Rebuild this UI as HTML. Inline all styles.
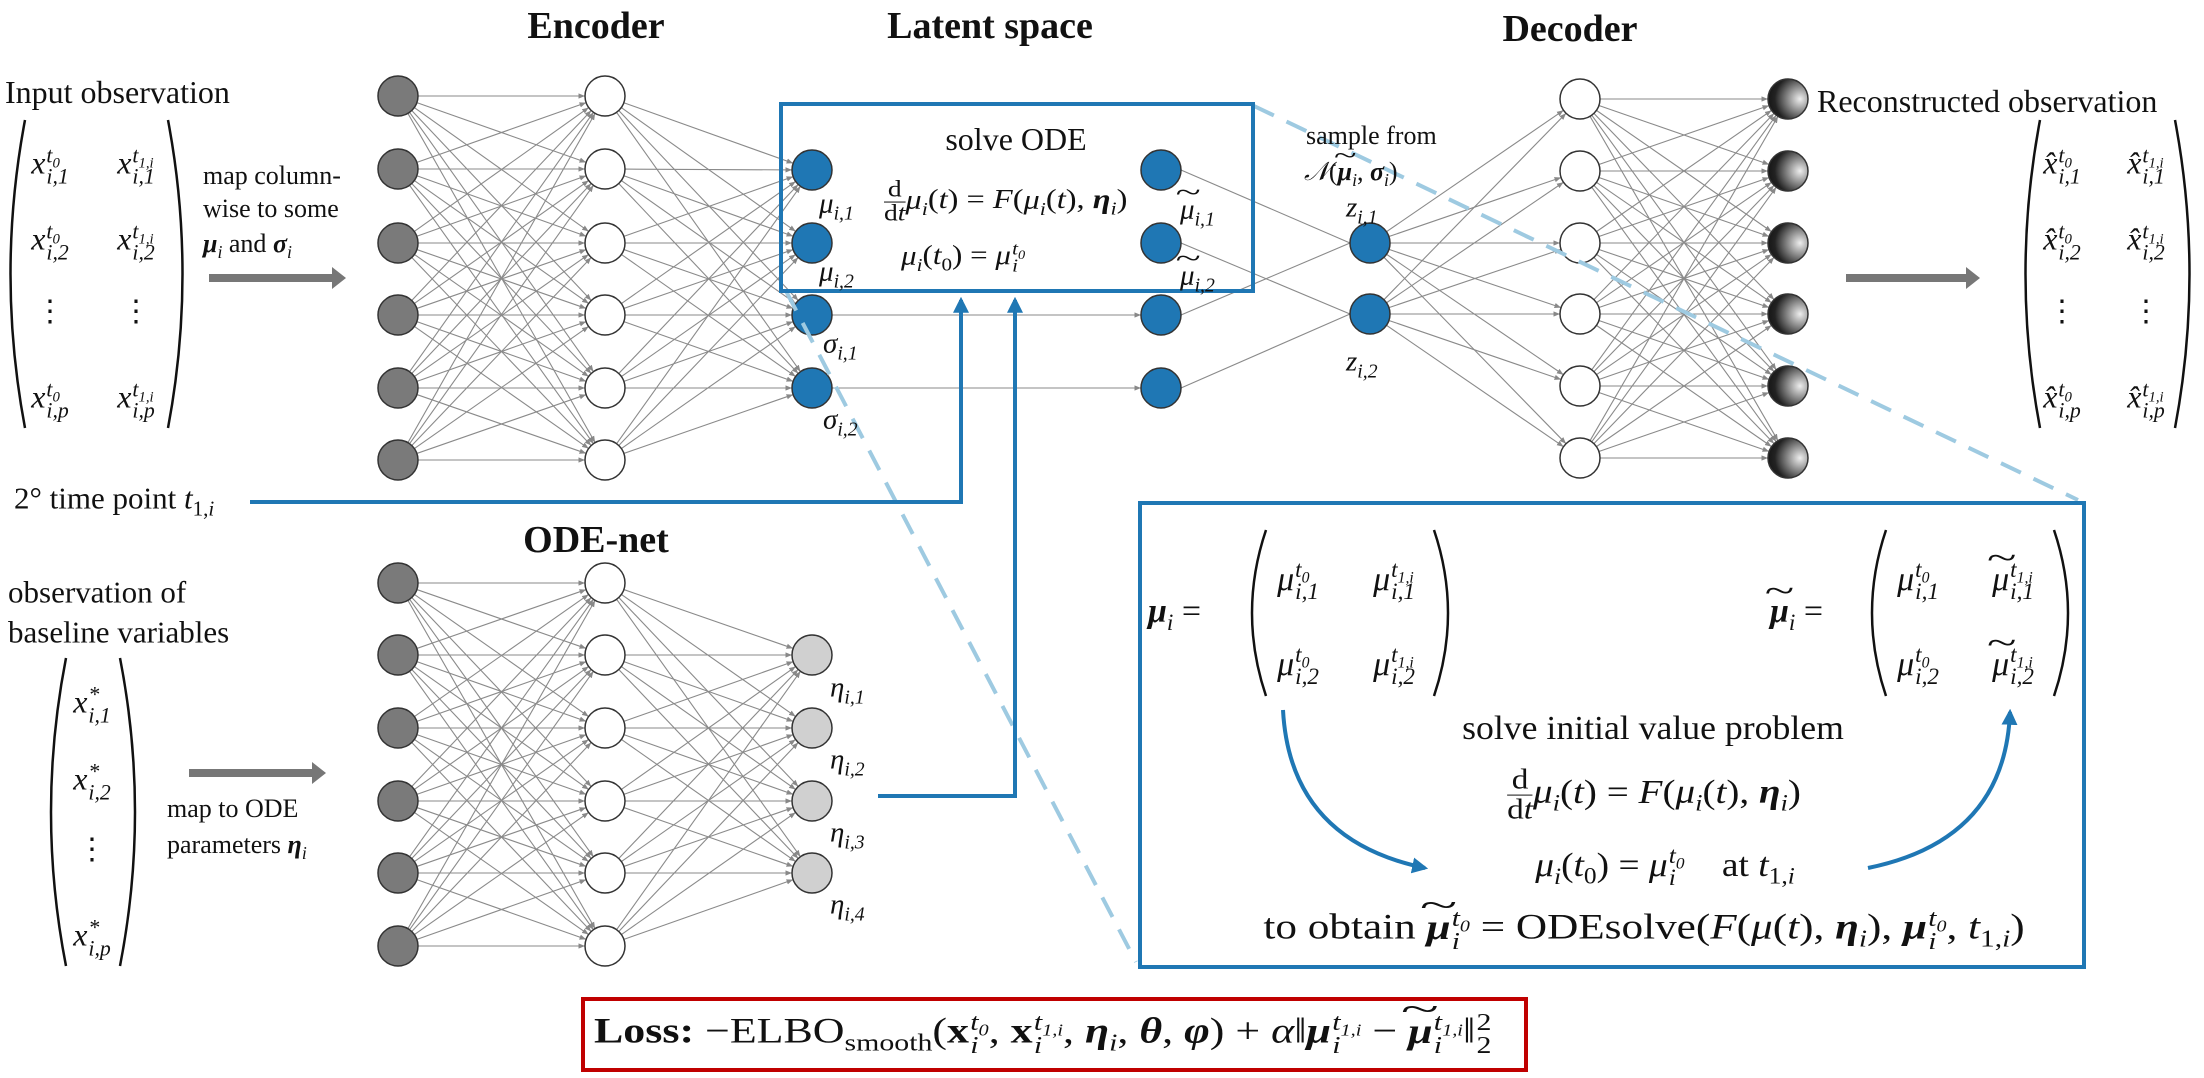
<!DOCTYPE html>
<html><head><meta charset="utf-8">
<style>
html,body{margin:0;padding:0;background:#fff;}
#root{position:relative;width:2204px;height:1078px;overflow:hidden;background:#fff;font-family:"Liberation Serif","DejaVu Serif",serif;color:#111;}
svg{position:absolute;left:0;top:0;}
.t{position:absolute;white-space:nowrap;transform:translateY(-50%);line-height:1;}
.c{transform:translate(-50%,-50%);}
.i{font-style:italic;}
.b{font-weight:bold;}
.ss{display:inline-flex;flex-direction:column;vertical-align:middle;font-size:0.68em;line-height:0.95;margin-left:1px;}
.ss span{display:block;}
sub,sup{font-size:0.68em;line-height:0;}
.frac{display:inline-flex;flex-direction:column;vertical-align:middle;text-align:center;font-size:0.85em;line-height:1;}
.frac span:first-child{border-bottom:1.5px solid #111;}
.bp{font-weight:bold;font-style:italic;}
.tl{position:relative;display:inline-block;}
.tl::after{content:"~";position:absolute;left:0;right:0;top:-0.6em;text-align:center;font-style:normal;font-weight:normal;transform:scaleX(1.6);}
</style></head><body>
<div id="root">
<svg id="svg" width="2204" height="1078" viewBox="0 0 2204 1078">
<defs>
<marker id="ah" viewBox="0 0 10 10" refX="10" refY="5" markerWidth="6" markerHeight="6" orient="auto"><path d="M0,1 L10,5 L0,9 z" fill="#888"/></marker>
<marker id="bh" viewBox="0 0 10 10" refX="8" refY="5" markerWidth="4" markerHeight="4" orient="auto"><path d="M0,0 L10,5 L0,10 z" fill="#1f77b4"/></marker>
<radialGradient id="og" cx="0.8" cy="0.5" r="0.9"><stop offset="0" stop-color="#eee"/><stop offset="0.7" stop-color="#222"/><stop offset="1" stop-color="#111"/></radialGradient>
</defs>
<g id="edges"></g>
<g id="nodes"></g>
</svg>

<!-- titles -->
<div class="t c b" style="left:596px;top:26px;font-size:38px">Encoder</div>
<div class="t c b" style="left:990px;top:26px;font-size:38px">Latent space</div>
<div class="t c b" style="left:1570px;top:29px;font-size:38px">Decoder</div>
<div class="t c b" style="left:596px;top:540px;font-size:38px">ODE-net</div>

<!-- left input -->
<div class="t" style="left:5px;top:92px;font-size:32px">Input observation</div>
<svg style="left:0;top:0" width="260" height="460"><path d="M25,120 Q-4,274 25,428" fill="none" stroke="#111" stroke-width="2.5"/><path d="M168,120 Q197,274 168,428" fill="none" stroke="#111" stroke-width="2.5"/></svg>
<div class="t c i" style="left:50px;top:166px;font-size:32px">x<span class="ss"><span>t<sub>0</sub></span><span>i,1</span></span></div>
<div class="t c i" style="left:136px;top:166px;font-size:32px">x<span class="ss"><span>t<sub>1,i</sub></span><span>i,1</span></span></div>
<div class="t c i" style="left:50px;top:242px;font-size:32px">x<span class="ss"><span>t<sub>0</sub></span><span>i,2</span></span></div>
<div class="t c i" style="left:136px;top:242px;font-size:32px">x<span class="ss"><span>t<sub>1,i</sub></span><span>i,2</span></span></div>
<div class="t c" style="left:50px;top:312px;font-size:30px">⋮</div>
<div class="t c" style="left:136px;top:312px;font-size:30px">⋮</div>
<div class="t c i" style="left:50px;top:400px;font-size:32px">x<span class="ss"><span>t<sub>0</sub></span><span>i,p</span></span></div>
<div class="t c i" style="left:136px;top:400px;font-size:32px">x<span class="ss"><span>t<sub>1,i</sub></span><span>i,p</span></span></div>
<div class="t" style="left:203px;top:176px;font-size:26px">map column-</div>
<div class="t" style="left:203px;top:209px;font-size:26px">wise to some</div>
<div class="t" style="left:203px;top:244px;font-size:26px"><span class="bp">μ</span><sub class="i">i</sub> and <span class="bp">σ</span><sub class="i">i</sub></div>

<div class="t" style="left:14px;top:498px;font-size:31px">2° time point <span class="i">t</span><sub>1,<span class="i">i</span></sub></div>

<!-- baseline -->
<div class="t" style="left:8px;top:592px;font-size:31px">observation of</div>
<div class="t" style="left:8px;top:632px;font-size:31px">baseline variables</div>
<svg style="left:0;top:0" width="200" height="1000"><path d="M66,658 Q36,812 66,966" fill="none" stroke="#111" stroke-width="2.5"/><path d="M120,658 Q150,812 120,966" fill="none" stroke="#111" stroke-width="2.5"/></svg>
<div class="t c i" style="left:92px;top:705px;font-size:32px">x<span class="ss"><span>*</span><span>i,1</span></span></div>
<div class="t c i" style="left:92px;top:782px;font-size:32px">x<span class="ss"><span>*</span><span>i,2</span></span></div>
<div class="t c" style="left:92px;top:850px;font-size:30px">⋮</div>
<div class="t c i" style="left:92px;top:938px;font-size:32px">x<span class="ss"><span>*</span><span>i,p</span></span></div>
<div class="t" style="left:167px;top:809px;font-size:26px">map to ODE</div>
<div class="t" style="left:167px;top:845px;font-size:26px">parameters <span class="bp">η</span><sub class="i">i</sub></div>

<!-- latent labels -->
<div class="t c" style="left:1016px;top:139px;font-size:32px">solve ODE</div>
<div class="t i" style="left:819px;top:204px;font-size:29px">μ<sub>i,1</sub></div>
<div class="t i" style="left:819px;top:272px;font-size:29px">μ<sub>i,2</sub></div>
<div class="t i" style="left:823px;top:344px;font-size:29px">σ<sub>i,1</sub></div>
<div class="t i" style="left:823px;top:420px;font-size:29px">σ<sub>i,2</sub></div>
<div class="t" style="left:884px;top:202px;font-size:27px;transform:translateY(-50%) scaleX(1.2);transform-origin:left center"><span class="frac"><span>d</span><span>d<i>t</i></span></span><i>μ<sub>i</sub></i>(<i>t</i>) = <i>F</i>(<i>μ<sub>i</sub></i>(<i>t</i>), <span class="bp">η</span><sub class="i">i</sub>)</div>
<div class="t" style="left:901px;top:258px;font-size:27px;transform:translateY(-50%) scaleX(1.15);transform-origin:left center"><i>μ<sub>i</sub></i>(<i>t</i><sub>0</sub>) = <i>μ</i><span class="ss i"><span>t<sub>0</sub></span><span>i</span></span></div>
<div class="t i" style="left:1180px;top:210px;font-size:29px"><span class="tl">μ</span><sub>i,1</sub></div>
<div class="t i" style="left:1180px;top:276px;font-size:29px"><span class="tl">μ</span><sub>i,2</sub></div>
<div class="t" style="left:1306px;top:136px;font-size:26px">sample from</div>
<div class="t" style="left:1304px;top:172px;font-size:26px"><i>𝒩</i>(<span class="bp tl">μ</span><sub class="i">i</sub>, <span class="bp">σ</span><sub class="i">i</sub>)</div>
<div class="t i" style="left:1346px;top:208px;font-size:29px">z<sub>i,1</sub></div>
<div class="t i" style="left:1346px;top:362px;font-size:29px">z<sub>i,2</sub></div>
<div class="t i" style="left:830px;top:688px;font-size:29px">η<sub>i,1</sub></div>
<div class="t i" style="left:830px;top:760px;font-size:29px">η<sub>i,2</sub></div>
<div class="t i" style="left:830px;top:833px;font-size:29px">η<sub>i,3</sub></div>
<div class="t i" style="left:830px;top:905px;font-size:29px">η<sub>i,4</sub></div>

<!-- right output -->
<div class="t" style="left:1817px;top:101px;font-size:32px">Reconstructed observation</div>
<svg style="left:0;top:0" width="2204" height="460"><path d="M2040,120 Q2011,274 2040,428" fill="none" stroke="#111" stroke-width="2.5"/><path d="M2175,120 Q2204,274 2175,428" fill="none" stroke="#111" stroke-width="2.5"/></svg>
<div class="t c i" style="left:2062px;top:166px;font-size:32px">x̂<span class="ss"><span>t<sub>0</sub></span><span>i,1</span></span></div>
<div class="t c i" style="left:2146px;top:166px;font-size:32px">x̂<span class="ss"><span>t<sub>1,i</sub></span><span>i,1</span></span></div>
<div class="t c i" style="left:2062px;top:242px;font-size:32px">x̂<span class="ss"><span>t<sub>0</sub></span><span>i,2</span></span></div>
<div class="t c i" style="left:2146px;top:242px;font-size:32px">x̂<span class="ss"><span>t<sub>1,i</sub></span><span>i,2</span></span></div>
<div class="t c" style="left:2062px;top:312px;font-size:30px">⋮</div>
<div class="t c" style="left:2146px;top:312px;font-size:30px">⋮</div>
<div class="t c i" style="left:2062px;top:400px;font-size:32px">x̂<span class="ss"><span>t<sub>0</sub></span><span>i,p</span></span></div>
<div class="t c i" style="left:2146px;top:400px;font-size:32px">x̂<span class="ss"><span>t<sub>1,i</sub></span><span>i,p</span></span></div>

<!-- zoom box content -->
<div class="t" style="left:1148px;top:612px;font-size:34px"><span class="bp">μ</span><sub class="i">i</sub> =</div>
<svg style="left:0;top:0" width="2204" height="720"><path d="M1266,530 Q1238,613 1266,696" fill="none" stroke="#111" stroke-width="2.5"/><path d="M1434,530 Q1462,613 1434,696" fill="none" stroke="#111" stroke-width="2.5"/><path d="M1886,530 Q1858,613 1886,696" fill="none" stroke="#111" stroke-width="2.5"/><path d="M2054,530 Q2082,613 2054,696" fill="none" stroke="#111" stroke-width="2.5"/></svg>
<div class="t c i" style="left:1298px;top:582px;font-size:34px">μ<span class="ss"><span>t<sub>0</sub></span><span>i,1</span></span></div>
<div class="t c i" style="left:1394px;top:582px;font-size:34px">μ<span class="ss"><span>t<sub>1,i</sub></span><span>i,1</span></span></div>
<div class="t c i" style="left:1298px;top:667px;font-size:34px">μ<span class="ss"><span>t<sub>0</sub></span><span>i,2</span></span></div>
<div class="t c i" style="left:1394px;top:667px;font-size:34px">μ<span class="ss"><span>t<sub>1,i</sub></span><span>i,2</span></span></div>
<div class="t" style="left:1770px;top:612px;font-size:34px"><span class="bp tl">μ</span><sub class="i">i</sub> =</div>
<div class="t c i" style="left:1918px;top:582px;font-size:34px">μ<span class="ss"><span>t<sub>0</sub></span><span>i,1</span></span></div>
<div class="t c i" style="left:2013px;top:582px;font-size:34px"><span class="tl">μ</span><span class="ss"><span>t<sub>1,i</sub></span><span>i,1</span></span></div>
<div class="t c i" style="left:1918px;top:667px;font-size:34px">μ<span class="ss"><span>t<sub>0</sub></span><span>i,2</span></span></div>
<div class="t c i" style="left:2013px;top:667px;font-size:34px"><span class="tl">μ</span><span class="ss"><span>t<sub>1,i</sub></span><span>i,2</span></span></div>
<div class="t c" style="left:1653px;top:729px;font-size:34px;transform:translate(-50%,-50%) scaleX(1.05)">solve initial value problem</div>
<div class="t c" style="left:1654px;top:795px;font-size:34px;transform:translate(-50%,-50%) scaleX(1.15)"><span class="frac"><span>d</span><span>d<i>t</i></span></span><i>μ<sub>i</sub></i>(<i>t</i>) = <i>F</i>(<i>μ<sub>i</sub></i>(<i>t</i>), <span class="bp">η</span><sub class="i">i</sub>)</div>
<div class="t c" style="left:1665px;top:868px;font-size:34px;transform:translate(-50%,-50%) scaleX(1.1)"><i>μ<sub>i</sub></i>(<i>t</i><sub>0</sub>) = <i>μ</i><span class="ss i"><span>t<sub>0</sub></span><span>i</span></span> &nbsp;&nbsp; at <i>t</i><sub>1,<i>i</i></sub></div>
<div class="t c" style="left:1644px;top:930px;font-size:36px;transform:translate(-50%,-50%) scaleX(1.2)">to obtain <span class="bp tl">μ</span><span class="ss i"><span>t<sub>0</sub></span><span>i</span></span> = ODEsolve(<i>F</i>(<i>μ</i>(<i>t</i>), <span class="bp">η</span><sub class="i">i</sub>), <span class="bp">μ</span><span class="ss i"><span>t<sub>0</sub></span><span>i</span></span>, <i>t</i><sub>1,<i>i</i></sub>)</div>

<!-- loss -->
<div class="t" style="left:594px;top:1034px;font-size:36px;transform:translateY(-50%) scaleX(1.22);transform-origin:left center"><b>Loss:</b> −ELBO<sub>smooth</sub>(<b>x</b><span class="ss i"><span>t<sub>0</sub></span><span>i</span></span>, <b>x</b><span class="ss i"><span>t<sub>1,i</sub></span><span>i</span></span>, <span class="bp">η</span><sub class="i">i</sub>, <span class="bp">θ</span>, <span class="bp">φ</span>) + <i>α</i>‖<span class="bp">μ</span><span class="ss i"><span>t<sub>1,i</sub></span><span>i</span></span> − <span class="bp tl">μ</span><span class="ss i"><span>t<sub>1,i</sub></span><span>i</span></span>‖<span class="ss"><span>2</span><span>2</span></span></div>
</div>

<script>
// layer definitions (x position and node y positions)
const encIn  = [96,169,243,315,388,460];
const encHid = [96,169,243,315,388,460];
const latent = [170,243,315,388];
const latent2 = [170,243,315,388];
const zNodes = [243,314];
const decHid = [99,171,243,314,386,458];
const decOut = [99,171,243,314,386,458];
const odeIn  = [583,655,728,801,873,946];
const odeHid = [583,655,728,801,873,946];
const odeOut = [655,728,801,873];
const X = {encIn:398, encHid:605, latent:812, latent2:1161, z:1370, decHid:1580, decOut:1788, odeIn:398, odeHid:605, odeOut:812};
const R = 20;
const NS = 'http://www.w3.org/2000/svg';
const svg = document.getElementById('svg');
const E = document.getElementById('edges');
const N = document.getElementById('nodes');
function mk(tag, attrs, parent){ const e=document.createElementNS(NS,tag); for(const k in attrs) e.setAttribute(k,attrs[k]); (parent||svg).appendChild(e); return e; }
function edge(x1,y1,x2,y2,w){
  const dx=x2-x1, dy=y2-y1, L=Math.hypot(dx,dy);
  const l=mk('line',{x1:x1+dx/L*R,y1:y1+dy/L*R,x2:x2-dx/L*R,y2:y2-dy/L*R,stroke:'#8a8a8a','stroke-width':w||1.1,'marker-end':'url(#ah)'},E);
  
  
}
function full(xa,ya,xb,yb){ ya.forEach(a=>yb.forEach(b=>edge(xa,a,xb,b))); }
function nodes(x,ys,fill,name){ ys.forEach(y=>{ const c=mk('circle',{cx:x,cy:y,r:R,fill:fill,stroke:'#333','stroke-width':1.5},N);
  
   }); }
full(X.encIn,encIn,X.encHid,encHid);
full(X.encHid,encHid,X.latent,latent);
full(X.odeIn,odeIn,X.odeHid,odeHid);
full(X.odeHid,odeHid,X.odeOut,odeOut);
full(X.z,zNodes,X.decHid,decHid);
full(X.decHid,decHid,X.decOut,decOut);
edge(X.latent,latent[2],X.latent2,latent2[2]);
edge(X.latent,latent[3],X.latent2,latent2[3]);
[[0,0],[1,1],[2,0],[3,1]].forEach(p=>{ const l=mk('line',{x1:X.latent2+R,y1:latent2[p[0]],x2:X.z-R,y2:zNodes[p[1]],stroke:'#8a8a8a','stroke-width':1.1},E);
  
   });
nodes(X.encIn,encIn,'#7a7a7a','encoder-input-node');
nodes(X.encHid,encHid,'#fff','encoder-hidden-node');
nodes(X.latent,latent,'#1f77b4','latent-node');
nodes(X.latent2,latent2,'#1f77b4','latent-ode-node');
nodes(X.z,zNodes,'#1f77b4','z-node');
nodes(X.decHid,decHid,'#fff','decoder-hidden-node');
nodes(X.decOut,decOut,'url(#og)','decoder-output-node');
nodes(X.odeIn,odeIn,'#7a7a7a','ode-input-node');
nodes(X.odeHid,odeHid,'#fff','ode-hidden-node');
nodes(X.odeOut,odeOut,'#d0d0d0','eta-node');
// boxes, arrows, dashed lines
function shape(tag,attrs,name){ const e=mk(tag,attrs);
  
   return e; }
shape('line',{x1:786,y1:291,x2:1136,y2:962,stroke:'#9ecae1','stroke-width':4,'stroke-dasharray':'22 14'},'zoom-dashed-line-left');
shape('line',{x1:1254,y1:106,x2:2078,y2:500,stroke:'#9ecae1','stroke-width':4,'stroke-dasharray':'22 14'},'zoom-dashed-line-right');
shape('rect',{x:781,y:104,width:472,height:187,fill:'none',stroke:'#1f77b4','stroke-width':4},'solve-ode-box');
shape('rect',{x:1140,y:503,width:944,height:464,fill:'none',stroke:'#1f77b4','stroke-width':4},'zoom-detail-box');
shape('rect',{x:583,y:999,width:943,height:71,fill:'none',stroke:'#c00000','stroke-width':4},'loss-box');
shape('path',{d:'M250,502 L961,502 L961,300',fill:'none',stroke:'#1f77b4','stroke-width':4,'marker-end':'url(#bh)'},'time-point-arrow');
shape('path',{d:'M878,796 L1015,796 L1015,300',fill:'none',stroke:'#1f77b4','stroke-width':4,'marker-end':'url(#bh)'},'eta-to-ode-arrow');
shape('path',{d:'M1283,710 Q1290,840 1425,868',fill:'none',stroke:'#1f77b4','stroke-width':4,'marker-end':'url(#bh)'},'ivp-curve-arrow-left');
shape('path',{d:'M1868,868 Q2005,840 2010,712',fill:'none',stroke:'#1f77b4','stroke-width':4,'marker-end':'url(#bh)'},'ivp-curve-arrow-right');
[[209,278,346],[1846,278,1980],[189,773,326]].forEach(a=>{
  shape('path',{d:`M${a[0]},${a[1]-4} L${a[2]-14},${a[1]-4} L${a[2]-14},${a[1]-11} L${a[2]},${a[1]} L${a[2]-14},${a[1]+11} L${a[2]-14},${a[1]+4} L${a[0]},${a[1]+4} z`,fill:'#777'},'gray-map-arrow');
});
</script>
</body></html>
